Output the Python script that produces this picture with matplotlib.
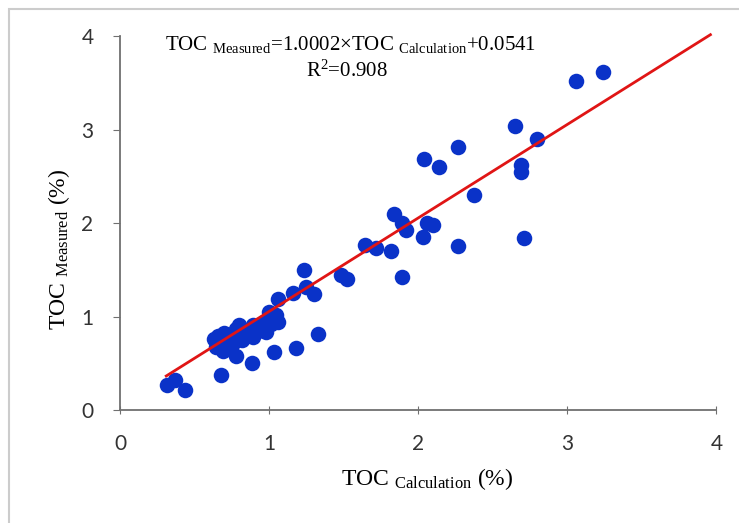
import matplotlib.pyplot as plt
from matplotlib.patches import Rectangle
import numpy as np

# Data
toc_calc = [0.315, 0.366, 0.435, 0.68, 0.886, 0.78, 1.03, 1.18, 1.325, 1.235,
            1.057, 1.157, 1.246, 1.30, 1.48, 1.525, 1.64, 1.72, 1.82, 1.84,
            1.89, 1.92, 1.89, 2.03, 2.06, 2.10, 2.04, 2.14, 2.265, 2.27,
            2.375, 2.65, 2.69, 2.69, 2.71, 2.80, 3.06, 3.24,
            0.655, 0.677, 0.644, 0.688, 0.722, 0.778, 0.80, 0.767, 0.82, 0.856,
            0.89, 0.923, 0.956, 0.979, 1.012, 1.034, 1.0, 1.045, 1.057, 0.967,
            0.89, 0.744, 0.633, 0.70, 0.75]
toc_meas = [0.27, 0.32, 0.215, 0.38, 0.50, 0.58, 0.62, 0.665, 0.81, 1.50,
            1.19, 1.25, 1.32, 1.245, 1.44, 1.40, 1.76, 1.73, 1.70, 2.10,
            2.00, 1.925, 1.42, 1.85, 2.00, 1.98, 2.69, 2.60, 1.75, 2.81,
            2.30, 3.04, 2.62, 2.55, 1.835, 2.90, 3.52, 3.62,
            0.795, 0.74, 0.67, 0.635, 0.78, 0.87, 0.905, 0.726, 0.744, 0.816,
            0.905, 0.85, 0.887, 0.833, 0.923, 0.977, 1.048, 1.012, 0.94, 0.94,
            0.78, 0.67, 0.76, 0.82, 0.80]

slope = 1.0002
intercept = 0.0541
fit_range = [0.31, 3.96]
ticks = [0, 1, 2, 3, 4]

plt.rcParams['mathtext.fontset'] = 'custom'
plt.rcParams['mathtext.rm'] = 'Liberation Serif'
plt.rcParams['mathtext.it'] = 'Liberation Serif:italic'

fig = plt.figure(figsize=(7.39, 5.23), dpi=100)
ax = fig.add_axes([0.1624, 0.216, 0.807, 0.715])

ax.scatter(toc_calc, toc_meas, s=125, color='#0a32c8', zorder=2, linewidths=0)
fx = np.array(fit_range)
ax.plot(fx, slope * fx + intercept, color='#e01515', linewidth=2, zorder=3,
        clip_on=False)

ax.set_xlim(0, 4)
ax.set_ylim(0, 4)
ax.set_xticks(ticks)
ax.set_yticks(ticks)
for s in ['top', 'right']:
    ax.spines[s].set_visible(False)
for s in ['left', 'bottom']:
    ax.spines[s].set_color('#707070')
    ax.spines[s].set_linewidth(1.3)
ax.tick_params(axis='y', direction='out', length=5, color='#707070',
               labelsize=15, labelcolor='#333333', pad=14)
ax.tick_params(axis='x', direction='inout', length=6, color='#707070',
               labelsize=15, labelcolor='#333333', pad=14)
for lab in ax.get_xticklabels() + ax.get_yticklabels():
    lab.set_family('Lato')

ax.set_xlabel(r'TOC $_{\mathrm{Calculation}}$ (%)', family='Liberation Serif',
              fontsize=17)
ax.set_ylabel(r'TOC $_{\mathrm{Measured}}$ (%)', family='Liberation Serif',
              fontsize=17)
ax.xaxis.set_label_coords(0.515, -0.15)
ax.yaxis.set_label_coords(-0.08, 0.43)

fig.text(0.474, 0.915, r'TOC $_{\mathrm{Measured}}$=1.0002×TOC $_{\mathrm{Calculation}}$+0.0541',
         family='Liberation Serif', fontsize=15, ha='center', va='center')
fig.text(0.47, 0.864, r'R$^{2}$=0.908', family='Liberation Serif',
         fontsize=15, ha='center', va='center')

# light frame around the figure
fig.patches.append(Rectangle((9 / 739, -0.1), 2, 1 - 9 / 523 + 0.1,
                             transform=fig.transFigure, fill=False,
                             edgecolor='#cccccc', linewidth=1.5))

fig.savefig('out.png', dpi=100)
